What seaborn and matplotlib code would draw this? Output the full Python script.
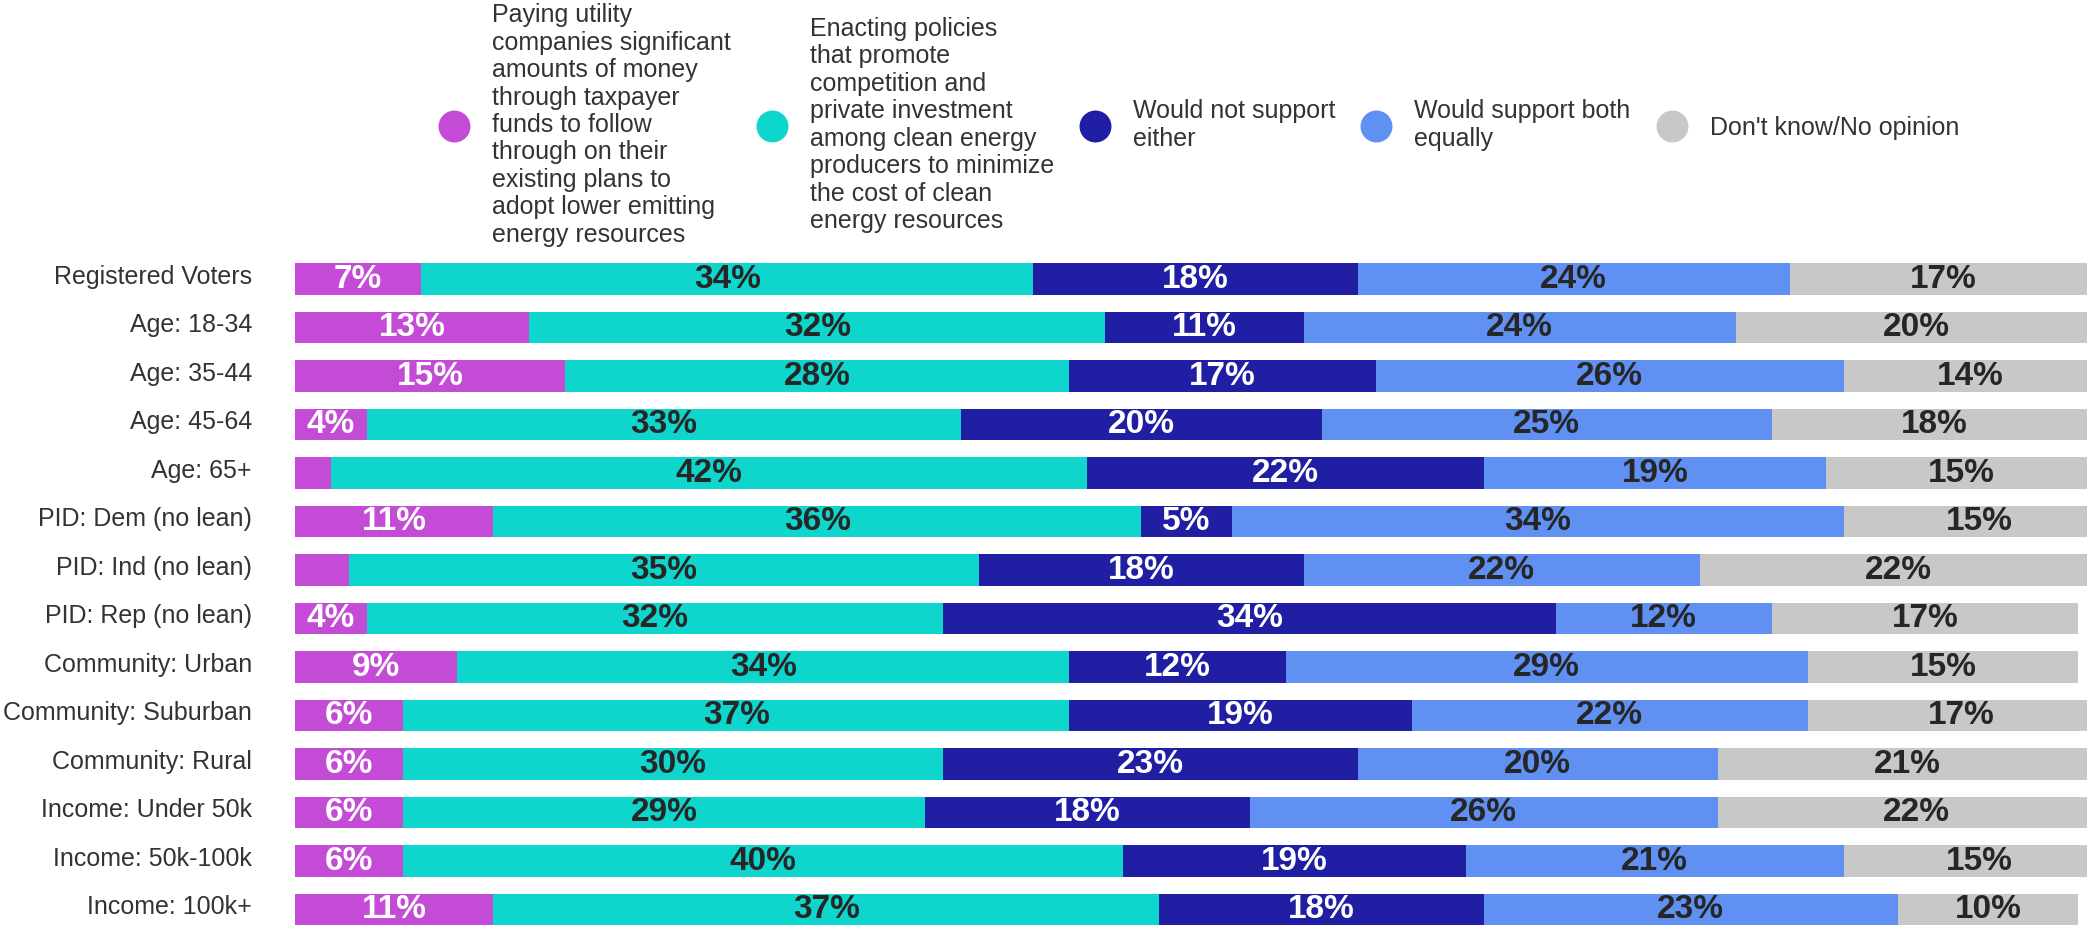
import numpy as np
import matplotlib
matplotlib.use("Agg")
import matplotlib.pyplot as plt
from matplotlib.lines import Line2D
import seaborn as sns

# Survey groups (rows, top to bottom)
groups = [
    "Registered Voters", "Age: 18-34", "Age: 35-44", "Age: 45-64", "Age: 65+",
    "PID: Dem (no lean)", "PID: Ind (no lean)", "PID: Rep (no lean)",
    "Community: Urban", "Community: Suburban", "Community: Rural",
    "Income: Under 50k", "Income: 50k-100k", "Income: 100k+",
]

# Share of respondents (%) for each answer
pay_utilities = [7, 13, 15, 4, 2, 11, 3, 4, 9, 6, 6, 6, 6, 11]
promote_competition = [34, 32, 28, 33, 42, 36, 35, 32, 34, 37, 30, 29, 40, 37]
support_neither = [18, 11, 17, 20, 22, 5, 18, 34, 12, 19, 23, 18, 19, 18]
support_both = [24, 24, 26, 25, 19, 34, 22, 12, 29, 22, 20, 26, 21, 23]
no_opinion = [17, 20, 14, 18, 15, 15, 22, 17, 15, 17, 21, 22, 15, 10]

answer_labels = [
    "Paying utility\ncompanies significant\namounts of money\nthrough taxpayer\n"
    "funds to follow\nthrough on their\nexisting plans to\nadopt lower emitting\nenergy resources",
    "Enacting policies\nthat promote\ncompetition and\nprivate investment\n"
    "among clean energy\nproducers to minimize\nthe cost of clean\nenergy resources",
    "Would not support\neither",
    "Would support both\nequally",
    "Don't know/No opinion",
]

series = [pay_utilities, promote_competition, support_neither, support_both, no_opinion]
colors = ["#C44BD6", "#0FD6CD", "#201EA2", "#5F90F2", "#C8C8C8"]
value_colors = ["white", "#262626", "white", "#262626", "#262626"]
text_color = "#333333"
FONT = ["Liberation Sans", "DejaVu Sans"]

sns.set_style("white")
plt.rcParams["font.family"] = FONT

W, H = 2087, 925
fig = plt.figure(figsize=(W / 100, H / 100), dpi=100)

# Plot area: bars start at x=295px, rows centred from y=279px down to y=909px
row_pitch = (909.5 - 279) / 13
top_px = 279 - row_pitch / 2
bot_px = 909.5 + row_pitch / 2
ax = fig.add_axes([295 / W, 1 - bot_px / H, (W - 295) / W, (bot_px - top_px) / H])

values = np.array(series, dtype=float)
cum = np.cumsum(values, axis=0)

# Stacked bars: draw the running totals from the widest down
for i in reversed(range(len(series))):
    sns.barplot(x=cum[i], y=groups, order=groups, orient="h", color=colors[i],
                saturation=1, width=0.65, errorbar=None, linewidth=0,
                edgecolor="none", ax=ax)

# Percent labels centred in each segment
for i, vals in enumerate(series):
    for j, v in enumerate(vals):
        if v < 4:
            continue
        start = cum[i][j] - v
        ax.text(start + v / 2, j, f"{v}%", ha="center", va="center",
                fontsize=24, fontweight="bold", color=value_colors[i],
                family=FONT)

ax.set_xlim(0, 99.5)
ax.set_ylim(len(groups) - 0.5, -0.5)
ax.set_xticks([])
# group names sit a touch above the bar centre line
ax.set_yticks([j - 0.1 for j in range(len(groups))], labels=groups)
ax.set_xlabel("")
ax.set_ylabel("")
ax.tick_params(axis="y", length=0, pad=31, labelsize=18, labelcolor=text_color)
for lab in ax.get_yticklabels():
    lab.set_family(FONT)
sns.despine(ax=ax, left=True, bottom=True)

# Legend across the top
handles = [Line2D([], [], linestyle="none", marker="o", markersize=23,
                  markerfacecolor=c, markeredgewidth=0) for c in colors]
leg = fig.legend(handles, answer_labels, ncol=5, loc="center left",
                 bbox_to_anchor=(438 / W, 1 - 125 / H), frameon=False,
                 borderpad=0, borderaxespad=0, handlelength=1.28,
                 handletextpad=0.88, columnspacing=1.0,
                 prop={"family": FONT, "size": 18}, labelcolor=text_color)
for t in leg.get_texts():
    t.set_linespacing(1.18)

fig.savefig("out.png", dpi=100)
